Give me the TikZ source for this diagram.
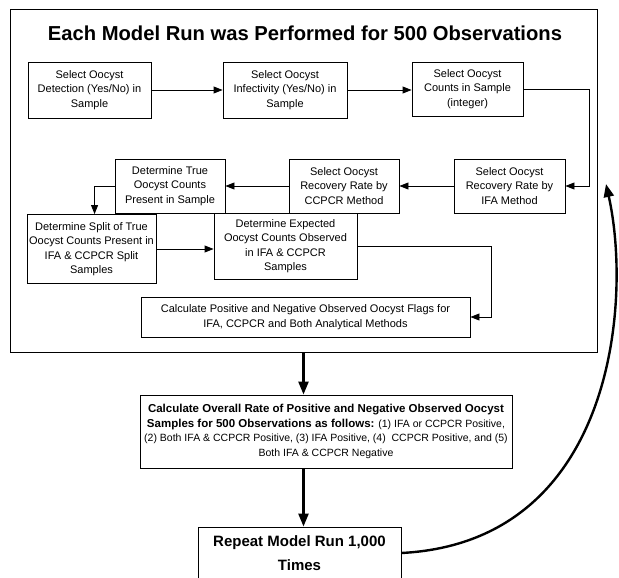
\documentclass[tikz,border=0pt]{standalone}
\usepackage{fontspec}
\setmainfont{Liberation Sans}
\usetikzlibrary{arrows.meta,positioning,calc}
\tikzset{stepbox/.style={draw,line width=.9pt,align=center,inner sep=1.5pt,font=\fontsize{11}{14.5}\selectfont},
 bigbox/.style={stepbox,font=\fontsize{10.5}{14.5}\selectfont},
 arr/.style={-{Triangle[length=9pt,width=7pt]},line width=.9pt},
 thick arr/.style={-{Triangle[length=13pt,width=10pt]},line width=2.4pt}}
\begin{document}
\begin{tikzpicture}[x=1pt,y=-1pt]
\useasboundingbox (0,0) rectangle (619,578);
% outer frame and title
\node[draw,line width=1pt,minimum width=587pt,minimum height=342pt,inner sep=0pt] (frame) at (303.5,181) {};
\node[font=\fontsize{20.2}{23}\selectfont\bfseries] (title) at (305,33) {Each Model Run was Performed for 500 Observations};
% first row
\node[stepbox,minimum width=123pt,minimum height=56pt] (det) at (89.5,90) {Select Oocyst\\Detection (Yes/No) in\\Sample};
\node[stepbox,minimum width=124pt,minimum height=56pt] (inf) at (285,90) {Select Oocyst\\Infectivity (Yes/No) in\\Sample};
\node[stepbox,minimum width=111pt,minimum height=54pt] (cnt) at (467.5,89) {Select Oocyst\\Counts in Sample\\(integer)};
% second row
\node[stepbox,minimum width=111pt,minimum height=54pt] (ifa) at (509.5,186) {Select Oocyst\\Recovery Rate by\\IFA Method};
\node[stepbox,minimum width=110pt,minimum height=54pt] (pcr) at (344,186) {Select Oocyst\\Recovery Rate by\\CCPCR Method};
\node[stepbox,minimum width=110pt,minimum height=54pt] (true) at (170,186) {Determine True\\Oocyst Counts\\Present in Sample};
% third row
\node[stepbox,minimum width=129pt,minimum height=69pt] (split) at (91.5,249) {Determine Split of True\\Oocyst Counts Present in\\IFA \& CCPCR Split\\Samples};
\node[stepbox,minimum width=143pt,minimum height=66pt] (exp) at (285.5,246) {Determine Expected\\Oocyst Counts Observed\\in IFA \& CCPCR\\Samples};
\node[stepbox,minimum width=329pt,minimum height=40pt] (flag) at (305.5,317) {Calculate Positive and Negative Observed Oocyst Flags for\\IFA, CCPCR and Both Analytical Methods};
% below the frame
\node[bigbox,minimum width=372pt,minimum height=73pt] (rate) at (326,431.5) {{\fontsize{11.5}{14.5}\selectfont\bfseries Calculate Overall Rate of Positive and Negative Observed Oocyst}\\{\fontsize{11.5}{14.5}\selectfont\bfseries Samples for 500 Observations as follows:} (1) IFA or CCPCR Positive,\\(2) Both IFA \& CCPCR Positive, (3) IFA Positive, (4)\ \ CCPCR Positive, and (5)\\Both IFA \& CCPCR Negative};
\node[stepbox,minimum width=203pt,minimum height=52pt,font=\fontsize{15}{24}\selectfont\bfseries] (rep) at (299.5,553) {Repeat Model Run 1,000\\Times};
\coordinate (back) at (606,184);

\draw[arr] (det) -- (det -| inf.west);
\draw[arr] (inf) -- (inf -| cnt.west);
\draw[arr] (cnt.east) -- ++(66,0) |- (ifa.east);
\foreach \u/\v in {ifa/pcr,pcr/true}{\draw[arr] (\u)--(\v);}
\draw[arr] (split) -- (split -| exp.west);
\draw[arr] (true.west) -- ++(-20,0) -- (split.north -| {$(true.west)+(-20,0)$});
\draw[arr] (exp.east) -- ++(134,0) |- (flag.east);
\draw[thick arr] (frame.south) -- (frame.south |- rate.north);
\draw[thick arr] (rate.south -| frame.south) -- (rep.north -| frame.south);
\draw[thick arr] (rep.east) .. controls (615,542) and (632,300) .. (back);
\end{tikzpicture}
\end{document}
